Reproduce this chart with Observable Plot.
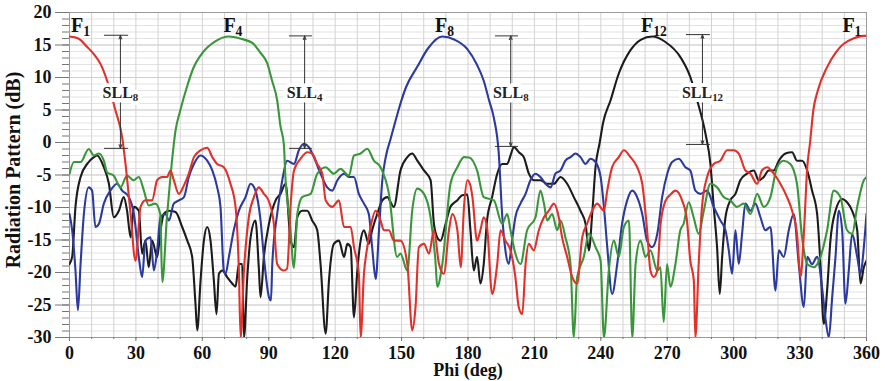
<!DOCTYPE html>
<html>
<head>
<meta charset="utf-8">
<script src="https://cdn.jsdelivr.net/npm/d3@7"></script>
<script src="https://cdn.jsdelivr.net/npm/@observablehq/plot@0.6"></script>
<style>
  html, body { margin: 0; padding: 0; background: #fff; }
</style>
</head>
<body>
<div id="chart"></div>
<script>
// ---- Data: [phi (deg), radiation pattern (dB)] ----
const redF1 = [[0,16.3],[4,16.0],[8,14.7],[11,13.6],[14,12.1],[17,9.5],[20.8,4.9],[23.8,0.8],[25.3,-3.3],[27.6,-11],[29.8,-18.2],[32.1,-9.9],[34.3,-8.9],[37.3,-8.9],[39.6,-5.8],[41.9,-5.3],[44.1,-5.3],[45.6,-4.3],[47.1,-5.8],[49.4,-7.9],[51.7,-6.6],[53.9,-4.8],[56.2,-2.25],[59.2,-1.2],[62.2,-0.8],[64.5,-2.25],[66.7,-3.3],[69.7,-3.8],[72.7,-6.35],[75,-9.9],[76.5,-19.7],[77.3,-30],[78.8,-19.7],[81,-11.5],[83.3,-8.4],[85.5,-6.9],[87.8,-7.9],[90,-9],[92.3,-12.5],[93.8,-18.7],[96.8,-19.7],[98.3,-19.4],[100,-9],[101.4,-4.3],[104.4,-2.5],[107.4,-1.5],[109.6,-1.7],[111.9,-3.3],[114.2,-4.8],[115.7,-8.9],[118.7,-9.9],[121.7,-8.9],[124,-13],[127,-13],[128.5,-16.1],[130.7,-20.2],[131.5,-30],[133,-20.2],[134.5,-16.1],[136,-13],[138.3,-10.5],[140.5,-12],[142,-13.5],[144.3,-13.5],[146.5,-15.1],[149.5,-15.1],[152.6,-18.7],[154.8,-28.9],[156.3,-25.3],[157.8,-16.1],[160.1,-15.6],[162.4,-17.1],[164.6,-13.5],[166.9,-18.7],[169.1,-20.2],[171.4,-13.5],[172.9,-11],[175.2,-13.5],[176.7,-19.2],[178.2,-9.9],[179.7,-5.8],[181,-6.5],[182,-8.4],[184.1,-15.1],[185.6,-13.5],[187.1,-11.5],[188.6,-13],[190.9,-23.3],[193.2,-18.7],[194.7,-13.5],[196.9,-15.1],[199.2,-16.6],[201.4,-20.7],[202.9,-25.3],[204.5,-26.4],[206,-18.7],[207.5,-15.6],[209.7,-16.6],[212,-13.5],[214.3,-11.5],[216.5,-10.5],[218.8,-9.4],[221,-11.5],[222.5,-14.6],[224.8,-17.6],[227.1,-20.7],[229.3,-21.7],[231.6,-14.6],[233.8,-12.5],[236.1,-10.5],[238.3,-9.4],[241.4,-10.5],[242.9,-7.4],[245.1,-3.8],[248.1,-2.25],[250.4,-1.2],[253.4,-2.25],[256.4,-3.8],[258.7,-6.35],[260.9,-13.5],[262.4,-19.7],[263.9,-20.7],[265.5,-19.7],[267,-12.5],[269.2,-9],[271.5,-8],[273.7,-7.4],[276.7,-8.9],[278.9,-12],[280.4,-18.15],[282,-21.2],[282.7,-30],[284.2,-18.7],[285.7,-9.9],[288,-5.3],[291,-3.3],[294,-2.8],[297,-1.2],[300,-1.2],[302.3,-1.7],[305.3,-4.3],[307.6,-4.8],[310.6,-6.35],[312.8,-4.3],[315.1,-3.8],[318.1,-4.8],[321.1,-6.35],[324.1,-8.4],[326.4,-10.5],[328.6,-14.05],[330.2,-20.7],[331.7,-14.05],[333.2,-4],[334.5,0],[336,5],[338,8],[342.2,11.6],[346,13.8],[349.7,15.2],[354,16.0],[358.7,16.4],[360,16.4]];

const greenF4 = [[0,-4.8],[2,-3.0],[5,-3.0],[8.7,-1.0],[11,-2],[13.3,-1.7],[15.5,-2.8],[17,-4.6],[20,-5.1],[23,-6.9],[26,-5.1],[29,-5.8],[31.3,-5.3],[33.6,-7.4],[35.8,-9.7],[38.8,-9.4],[41,-11],[41.9,-21.5],[44,-11.5],[45.6,-5.3],[47.9,1.85],[50,4.9],[53,8.5],[56,11.5],[59,13.3],[62.2,14.6],[66,15.6],[71.9,16.3],[77,16.0],[83,15.2],[86,13.9],[89.3,12.2],[91.5,9.5],[93.8,6.5],[95.3,2.5],[96.8,-0.2],[97.6,-5.8],[99.5,-12],[101.4,-19.3],[102.9,-11],[105.1,-8.4],[108.9,-7.9],[111.9,-4.8],[115.7,-3.8],[119.4,-4.8],[122.4,-4.05],[126.2,-5.1],[128.5,-2],[131.5,-1.7],[134.5,-0.97],[137.5,-2.8],[140.5,-3.8],[144.3,-7.9],[148,-17.6],[149.5,-17.1],[152.6,-19.7],[154.8,-10.5],[157.1,-7.1],[160.1,-7.9],[163.1,-11.5],[165.4,-18.7],[166.1,-22.2],[168.4,-18.7],[172.1,-6.35],[175.2,-3.8],[178.2,-2.25],[180.5,-2.3],[184.1,-4.3],[187.1,-8.4],[191.7,-8.9],[195.4,-12.5],[197.7,-11],[199.2,-13.5],[201.4,-17.1],[203.7,-18.7],[206.7,-13.5],[210.5,-11.5],[212.7,-7.4],[214.3,-9.4],[215.8,-12],[218,-11],[220.3,-13.5],[221.8,-12],[224,-14.6],[226.3,-18.7],[227.8,-30],[229.3,-20.7],[232.3,-17.6],[234.6,-14],[237.6,-16.1],[239.9,-18.2],[241.4,-30],[243.6,-19.7],[245.9,-15.1],[248.1,-17.6],[250.4,-13],[252.7,-12],[254.2,-30],[255.7,-18.7],[257.9,-15.1],[260.2,-17.6],[262.4,-16.6],[265.5,-19.7],[266.9,-19.2],[268.4,-27.6],[269.9,-18.7],[271.4,-22.2],[273.7,-18.7],[275.9,-13.5],[277.4,-12.5],[279.7,-9.2],[281.9,-11.5],[284.2,-14.05],[286.5,-10.5],[289.5,-6.35],[292.5,-6.9],[295.5,-8.4],[298.5,-8.9],[301.5,-9.9],[304.5,-9.4],[307.6,-11],[310.6,-7.9],[313.6,-9.9],[316.6,-8.4],[319.6,-3.8],[322.6,-2.8],[325.6,-3.3],[328.6,-6.35],[330.9,-14.6],[333.2,-18.7],[336.2,-19.2],[339.2,-17.6],[342.2,-13.5],[345.2,-7.4],[348.2,-8.4],[351.2,-13.5],[353.5,-14.05],[355.8,-9.9],[358.8,-5.8],[360,-5.3]];

const blueF8 = [[0,-11],[1.2,-13.5],[2.7,-19.7],[3.8,-25.8],[5,-18.7],[6.5,-11],[8.7,-6.9],[10.2,-7.4],[11.7,-13],[13.3,-12.5],[15.5,-9.4],[18.5,-7.4],[21.5,-6.35],[23.8,-7.4],[26.8,-8.4],[29.1,-11],[31.3,-17.6],[32.8,-20.7],[34.3,-15.1],[36.6,-14.6],[38.1,-19.7],[39.6,-16.6],[41.1,-11.5],[43.4,-11],[44.9,-12],[47.1,-9.4],[49.4,-8.9],[51.7,-8.4],[53.9,-5.3],[56.2,-3.3],[59.2,-2],[62.2,-2.8],[64.5,-4.3],[66.7,-6.9],[68.2,-9.9],[69.7,-19.7],[70.5,-20.2],[72,-17.6],[74.2,-13.5],[76.5,-10.5],[79.5,-8.4],[81.8,-6.35],[84,-7.4],[86.3,-12],[87.8,-17.6],[90.1,-23.8],[91,-24.3],[91.6,-18.7],[93.8,-11],[96.1,-5.8],[98.3,-2.8],[101.4,-3.3],[103.6,-1.2],[105.9,-0.2],[108.1,-0.7],[110.4,-2.25],[113.4,-4.8],[116.4,-6.9],[118.7,-7.4],[121,-5.8],[124,-4.8],[126.2,-5.3],[128.5,-5.3],[130.7,-7.9],[133,-9.4],[135.2,-11],[136.7,-16.1],[138.3,-21],[139.8,-13.5],[141.3,-5.8],[143,-2],[145,0.5],[147,3],[149.5,6],[152,8.5],[157,11.6],[162,14.5],[168.3,16.3],[174,15.8],[179.6,14.4],[184,12],[187.1,9.5],[189.5,6.5],[191.6,3.9],[193.9,-1.7],[195.4,-11],[196.9,-16.6],[198.4,-18.7],[199.9,-15.1],[201.4,-11.5],[203.7,-9.4],[206,-7.9],[208.2,-5.8],[210.5,-4.8],[212.7,-5.3],[215,-6.35],[217.3,-6.9],[219.5,-4.8],[221.8,-4.3],[224,-2.8],[226.3,-2.25],[228.6,-1.7],[230.8,-2.25],[233.1,-3.3],[235.3,-2.5],[237.6,-3],[239.9,-5.3],[241.4,-9.9],[242.9,-16.1],[245.1,-23.3],[247.4,-18.7],[249.6,-12.5],[251.9,-8.9],[254.2,-7.4],[256.4,-8.4],[258.7,-11],[260.9,-15.1],[263.2,-16.1],[265.5,-14.05],[267.7,-8.4],[270,-4.8],[272.2,-3],[275.2,-2.5],[278.2,-3.8],[280.4,-4.3],[282.7,-7.4],[285,-7.9],[288,-7.4],[291,-9.9],[294,-12],[296.3,-13.5],[297.8,-16.6],[299.3,-20.2],[300.8,-13.5],[302.3,-18.7],[303.8,-14.05],[305.3,-9.4],[307.6,-10.5],[309.8,-9.4],[312.1,-11.5],[314.3,-13.5],[316.6,-13],[318.9,-22.8],[320.4,-16.6],[322.6,-17.6],[324.9,-13.5],[327.1,-11],[329.4,-18.7],[331.7,-25.3],[333.2,-17.6],[335.4,-18.7],[337.7,-17.6],[339.9,-22.2],[341.4,-26.9],[343,-30],[344.5,-23.8],[346,-17.6],[347.5,-10.5],[349,-13.5],[350.5,-24.8],[352,-19.7],[353.5,-14.05],[355.8,-17.6],[357.3,-20.2],[358.8,-16.1],[360,-11]];

const blackF12 = [[0,-18.7],[1.2,-17.6],[2.7,-9.9],[5,-5.3],[8,-3.3],[11,-2.25],[12.5,-2],[15.5,-3.8],[17.8,-6.35],[20,-11.5],[22.3,-10.5],[24.5,-8.4],[26,-10.5],[27.6,-14.6],[29.1,-9.9],[31.3,-10.5],[32.8,-17.1],[34.3,-15.1],[35.8,-19.2],[37.3,-15.1],[39.6,-17.6],[41.1,-13.5],[42.6,-11],[44.9,-10.5],[47.9,-10.7],[50.9,-13],[53.2,-15.1],[55.4,-17.6],[56.9,-24.8],[57.7,-28.9],[59.2,-21.2],[60.7,-15.1],[62.2,-13],[63.7,-15.1],[65.2,-21.2],[66.4,-26.4],[67.5,-20.2],[69,-19.7],[71.2,-20.7],[73.5,-21.7],[75,-22.2],[76.5,-18.7],[78,-18.7],[78.8,-30],[80.3,-20.7],[81.8,-14.6],[84,-12],[85.5,-19.2],[86.3,-23.8],[87.8,-17.6],[90.1,-12.5],[93.1,-8.9],[95.3,-7.9],[97.6,-6.35],[99.9,-15.1],[101.4,-16.1],[102.9,-11.5],[105.1,-10.5],[107.4,-10.5],[109.6,-12],[111.9,-13.5],[113.4,-18.7],[115.7,-29.4],[117.2,-21.2],[119.4,-15.6],[121.7,-15.1],[124,-17.6],[125.5,-15.6],[127,-16.1],[128.5,-26.9],[130,-19.7],[131.5,-15.1],[133,-13.5],[135.2,-15.6],[136.7,-13.5],[139,-11],[141.3,-8.9],[143.5,-8.4],[146.5,-9.9],[149.5,-4.3],[152.6,-2.25],[154.8,-1.7],[157.1,-2.8],[160.1,-4.3],[163.1,-5.8],[164.6,-12.5],[166.1,-14.6],[167.6,-15.1],[169.9,-12.5],[172.1,-9.9],[175.2,-8.9],[177.4,-8.1],[179.7,-8],[181.1,-13.5],[182.6,-19.7],[184.1,-17.6],[185.6,-21.7],[187.1,-18.7],[188.6,-12],[190.9,-8.4],[193.2,-4.8],[195.4,-3.3],[197.7,-3.3],[199.2,-2],[200.7,-0.7],[203,-1.5],[205.2,-2.25],[207.5,-4.8],[209.7,-5.8],[212.7,-5.8],[215.8,-6.35],[218.8,-6.35],[221.8,-5.3],[224.8,-6.35],[227.8,-8.4],[230.8,-10.5],[233.1,-12.5],[234.6,-16.6],[236.1,-11],[237.6,-3.8],[239.5,0],[241,3],[244.4,6.5],[248,10.5],[253.4,14.2],[258,15.8],[263.2,16.3],[269,15.5],[276,13.1],[280.5,10],[283.5,6.5],[287.3,1.3],[289.5,-3.3],[291,-9.9],[292.5,-16.1],[293.7,-23.3],[294.8,-17.6],[296.3,-11.5],[298.5,-8.9],[300.8,-7.9],[303,-5.8],[306,-4.8],[309.1,-4.3],[311.3,-5.8],[313.6,-5.3],[315.8,-4.3],[318.1,-4.3],[320.4,-2.8],[323.4,-1.7],[326.4,-1.5],[328.6,-2.8],[330.9,-2.8],[333.2,-4.3],[335.4,-7.4],[337.7,-11],[339.2,-18.7],[340.7,-27.9],[342.2,-22.8],[343.7,-15.1],[346,-10.5],[349,-8.7],[351.2,-9.2],[353.5,-10.5],[355.8,-13.5],[357.3,-21.7],[358.8,-19.2],[360,-18.2]];

// beam labels
const beamLabels = ["F_1", "F_4", "F_8", "F_12", "F_1"];
const beamPhi    = [5, 73.8, 169.4, 264, 353.4];
const beamDb     = [18, 18, 18, 18, 18];

// side-lobe-level annotations
const sllLabels  = ["SLL_8", "SLL_4", "SLL_8", "SLL_12"];
const sllPhi     = [23, 106.2, 199.3, 285.9];
const sllTop     = [16.5, 16.4, 16.4, 16.6];
const sllBottom  = [-0.9, -0.9, -0.6, -0.3];
const sllCapLeft = [15.8, 99.4, 192.4, 278.7];
const sllCapRight= [26.7, 109.7, 202.8, 289.5];
const sllTextDb  = 7.6;
const sllGapTop  = 9.1;
const sllGapBottom = 6.1;

// ticks
const xTicks = d3.range(0, 361, 30);
const xMinor = d3.range(0, 361, 10);
const yTicks = d3.range(-30, 21, 5);
const yMinor = d3.range(-30, 21, 1);

const series = [
  {name: "F12", pts: blackF12, color: "#1c1c1c"},
  {name: "F8",  pts: blueF8,   color: "#2b3a9c"},
  {name: "F4",  pts: greenF4,  color: "#3a963a"},
  {name: "F1",  pts: redF1,    color: "#e2302b"}
];

const rows = series.flatMap(s => s.pts.map(([phi, db]) => ({series: s.name, phi, db, color: s.color})));
const beams = beamLabels.map((t, i) => ({t, phi: beamPhi[i], db: beamDb[i]}));
const slls = sllLabels.map((t, i) => ({t, phi: sllPhi[i], top: sllTop[i], bottom: sllBottom[i], c1: sllCapLeft[i], c2: sllCapRight[i]}));

const FONT = "Liberation Serif, Times New Roman, serif";

const chart = Plot.plot({
  width: 885,
  height: 381,
  marginLeft: 69,
  marginRight: 19,
  marginTop: 12,
  marginBottom: 44,
  style: {fontFamily: FONT, background: "#fff", overflow: "visible"},
  x: {domain: [0, 360]},
  y: {domain: [-30, 20]},
  marks: [
    Plot.gridY(yMinor, {stroke: "#e3e3e3", strokeOpacity: 1}),
    Plot.gridX(xMinor, {stroke: "#d2d2d2", strokeOpacity: 1}),
    Plot.gridY(yTicks, {stroke: "#cfcfcf", strokeOpacity: 1}),
    Plot.frame({stroke: "#9a9a9a"}),
    Plot.axisY(yMinor, {tickSize: 7, tickFormat: () => "", stroke: "#777", label: null}),
    Plot.axisY(yTicks, {tickSize: 14, tickPadding: 4, stroke: "#777", tickFormat: d => String(d),
      fontSize: 18, fontWeight: "bold", fill: "#111", label: null}),
    Plot.axisX(xMinor, {tickSize: 2, tickFormat: () => "", stroke: "#777", label: null}),
    Plot.axisX(xTicks, {tickSize: 4, tickPadding: 5, stroke: "#777", tickFormat: d => String(d),
      fontSize: 18, fontWeight: "bold", fill: "#111", label: null}),
    Plot.line(rows, {x: "phi", y: "db", z: "series", stroke: "color", strokeWidth: 2.1, clip: true, curve: "monotone-x"}),
    // SLL arrows
    Plot.ruleY(slls, {y: "top", x1: "c1", x2: "c2", stroke: "#333", strokeWidth: 1}),
    Plot.ruleY(slls, {y: "bottom", x1: "c1", x2: "c2", stroke: "#333", strokeWidth: 1}),
    Plot.arrow(slls, {x1: "phi", x2: "phi", y1: () => sllGapTop, y2: "top", stroke: "#333", strokeWidth: 1, headLength: 6, headAngle: 40}),
    Plot.arrow(slls, {x1: "phi", x2: "phi", y1: () => sllGapBottom, y2: "bottom", stroke: "#333", strokeWidth: 1, headLength: 6, headAngle: 40}),
    // halo layer then label layer
    Plot.text(slls, {x: "phi", y: () => sllTextDb, text: "t", fontSize: 16, fontWeight: "bold", fill: "white",
      stroke: "white", strokeWidth: 8, fontFamily: FONT}),
    Plot.text(slls, {x: "phi", y: () => sllTextDb, text: "t", fontSize: 16, fontWeight: "bold", fill: "#222", fontFamily: FONT}),
    Plot.text(beams, {x: "phi", y: "db", text: "t", fontSize: 20, fontWeight: "bold", fill: "#111", fontFamily: FONT}),
    // axis titles
    Plot.text(["Radiation Pattern (dB)"], {frameAnchor: "left", textAnchor: "middle", lineAnchor: "middle", dx: -56, dy: -5, rotate: -90,
      fontSize: 20, fontWeight: "bold", fill: "#111", fontFamily: FONT}),
    Plot.text(["Phi (deg)"], {frameAnchor: "bottom", textAnchor: "middle", lineAnchor: "middle", dy: 33,
      fontSize: 18, fontWeight: "bold", fill: "#111", fontFamily: FONT})
  ]
});

// subscripts: "F_12" -> F with subscript 12
d3.select(chart).selectAll("text").each(function() {
  const el = d3.select(this);
  if (el.selectAll("tspan").size() > 0) return;
  const t = this.textContent;
  const m = t.match(/^(.*?)_(\d+)$/);
  if (m) {
    el.text(m[1]);
    el.append("tspan").attr("dy", "0.28em").attr("font-size", "0.68em").text(m[2]);
  }
});

document.getElementById("chart").appendChild(chart);
</script>
</body>
</html>
